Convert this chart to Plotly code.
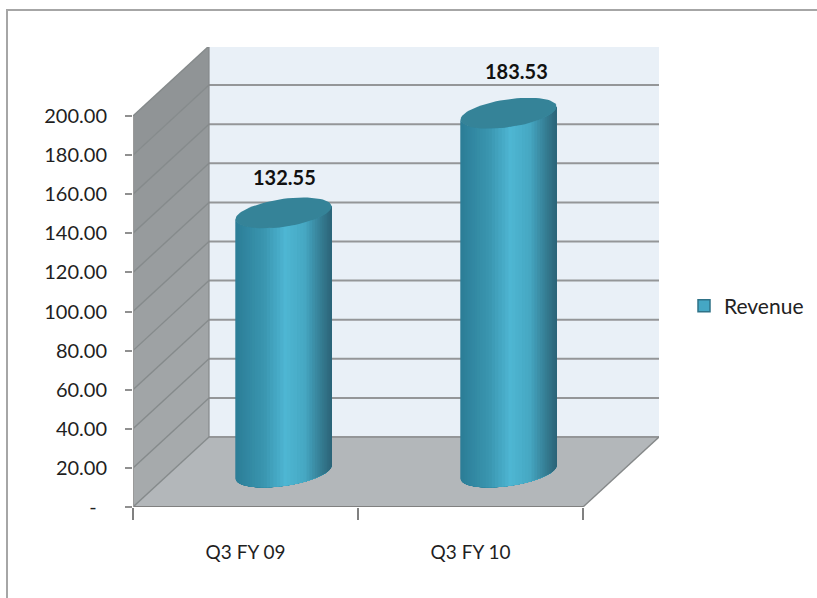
import math
import plotly.graph_objects as go

# ---- data ----
categories = ["Q3 FY 09", "Q3 FY 10"]
revenue = [132.55, 183.53]
value_labels = ["132.55", "183.53"]
y_ticks = [0, 20, 40, 60, 80, 100, 120, 140, 160, 180, 200]
y_tick_labels = ["-\u00a0\u00a0", "20.00", "40.00", "60.00", "80.00", "100.00",
                 "120.00", "140.00", "160.00", "180.00", "200.00"]
series_name = "Revenue"

# ---- geometry / style ----
W, H = 817, 598
L, R, T, B = 133, 659, 47, 507       # px box of the oblique chart
PX_X = 225.0                         # px per category
PX_Y = 391 / 200                     # px per value unit
XMIN = -0.5
XMAX = XMIN + (R - L) / PX_X
YMAX = (B - T) / PX_Y
DX = 76 / PX_X                       # depth vector in axis units
DY = 70 / PX_Y
AX = 48 / PX_X                       # cylinder half width
BY = 14 / PX_Y                       # ellipse half height
TILT = 6.5 / PX_Y                    # ellipse tilt
FONT = "Lato"

def lerp(c1, c2, f):
    return tuple(c1[k] + (c2[k] - c1[k]) * f for k in range(3))

def shade(f):
    stops = [(0.0, (44, 125, 150)), (0.30, (58, 150, 176)), (0.52, (78, 182, 211)),
             (0.72, (70, 168, 195)), (0.90, (52, 122, 144)), (1.0, (44, 100, 120))]
    for (a, ca), (b, cb) in zip(stops, stops[1:]):
        if f <= b:
            c = lerp(ca, cb, (f - a) / (b - a))
            return "rgb(%d,%d,%d)" % tuple(round(v) for v in c)
    return "rgb(44,100,120)"

def poly(xs, ys, fill, line=None, width=0):
    return go.Scatter(x=xs, y=ys, mode="lines", fill="toself", fillcolor=fill,
                      line=dict(color=line or fill, width=width), hoverinfo="skip",
                      showlegend=False)

def seg(xs, ys, color, width=2):
    return go.Scatter(x=xs, y=ys, mode="lines", line=dict(color=color, width=width),
                      hoverinfo="skip", showlegend=False)

x0, x1 = -0.5, -0.5 + len(categories)
top = y_ticks[-1]
fig = go.Figure()

# left wall: bands between ticks, darker upward
n = len(y_ticks) - 1
for i in range(n):
    a, b = y_ticks[i], y_ticks[i + 1]
    g = 166 - 22 * (i / (n - 1))
    col = "rgb(%d,%d,%d)" % (g, g + 4, g + 6)
    fig.add_trace(poly([x0, x0 + DX, x0 + DX, x0, x0], [a, a + DY, b + DY, b, a], col))
# back wall
fig.add_trace(poly([x0 + DX, x1 + DX, x1 + DX, x0 + DX, x0 + DX],
                   [DY, DY, top + DY, top + DY, DY], "#e9f0f7"))
# floor
fig.add_trace(poly([x0, x1, x1 + DX, x0 + DX, x0], [0, 0, DY, DY, 0], "#b3b7ba"))

# grid on walls
for v in y_ticks:
    fig.add_trace(seg([x0 + DX, x1 + DX], [v + DY, v + DY], "#949698"))
    fig.add_trace(seg([x0, x0 + DX], [v, v + DY], "#858a8b", 1.4))
fig.add_trace(seg([x0 + DX, x0 + DX], [DY, top + DY], "#85898a", 1.2))
fig.add_trace(seg([x1, x1 + DX], [0, DY], "#858889", 1.4))
fig.add_trace(seg([x0, x1], [0, 0], "#808080", 2))
fig.add_trace(seg([x0, x0], [0, top], "#9a9a9a", 2))

# bar trace (legend + base of the cylinders)
centres = [i + DX / 2 for i in range(len(categories))]
base = DY / 2
fig.add_trace(go.Bar(x=centres, y=revenue, base=base, width=2 * AX, name=series_name,
                     marker=dict(color="#45a7c4", line=dict(color="#2f7287", width=1.5)),
                     showlegend=True, hoverinfo="skip"))

# cylinder shading
N = 44
for cx, val in zip(centres, revenue):
    ytop = base + val
    for i in range(N):
        t_i = math.pi * (1 - i / N)
        frac = (1 + math.cos(t_i - math.pi / N / 2)) / 2
        ts = [t_i * (1 - k / 12) for k in range(13)]
        xs_low = [cx + AX * math.cos(t) for t in ts]
        ys_low = [base + TILT * math.cos(t) - BY * math.sin(t) for t in ts]
        xs_up = xs_low[::-1]
        ys_up = [ytop + TILT * math.cos(t) - BY * math.sin(t) for t in ts[::-1]]
        fig.add_trace(poly(xs_low + xs_up + xs_low[:1], ys_low + ys_up + ys_low[:1], shade(frac)))
    # cap
    ts = [2 * math.pi * k / 72 for k in range(73)]
    fig.add_trace(poly([cx + AX * math.cos(t) for t in ts],
                       [ytop + TILT * math.cos(t) - BY * math.sin(t) for t in ts], "#358398"))

# data labels
x_shift = [1, 8]
y_shift = [36, 42]
for cx, val, txt, xs, ys in zip(centres, revenue, value_labels, x_shift, y_shift):
    fig.add_annotation(x=cx, y=base + val, text="<b>%s</b>" % txt, showarrow=False,
                       xshift=xs, yshift=ys, font=dict(family=FONT, size=20, color="#111111"))

fig.update_layout(
    width=W, height=H, autosize=False, margin=dict(l=0, r=0, t=0, b=0),
    paper_bgcolor="white", plot_bgcolor="rgba(0,0,0,0)", barmode="overlay",
    font=dict(family=FONT, size=20, color="#1f1f1f"),
    legend=dict(x=684 / W, y=1 - 306 / H, xanchor="left", yanchor="middle",
                bgcolor="rgba(0,0,0,0)", font=dict(family=FONT, size=21, color="#222222"),
                itemclick=False, itemdoubleclick=False, itemwidth=30),
    xaxis=dict(domain=[L / W, R / W], range=[XMIN, XMAX], tickmode="array", automargin=False,
               tickvals=list(range(len(categories))), ticktext=categories,
               tickfont=dict(size=19),
               ticks="outside", ticklen=28, tickcolor="rgba(0,0,0,0)", showgrid=False,
               zeroline=False, showline=False,
               minor=dict(tickmode="array", tickvals=[x0, x0 + 1, x1], ticks="outside",
                          ticklen=12, tickcolor="#808080", tickwidth=1.5, showgrid=False)),
    yaxis=dict(domain=[1 - B / H, 1 - T / H], range=[0, YMAX], tickmode="array", automargin=False,
               tickvals=y_ticks, ticktext=y_tick_labels, ticks="outside", ticklen=21,
               tickcolor="rgba(0,0,0,0)", showgrid=False, zeroline=False, showline=False,
               minor=dict(tickmode="array", tickvals=y_ticks, ticks="outside",
                          ticklen=7, tickcolor="#909090", tickwidth=1.5, showgrid=False)),
    shapes=[
        dict(type="line", xref="paper", yref="paper", x0=6 / W, x1=1, y0=1 - 10 / H, y1=1 - 10 / H,
             line=dict(color="#a6a6a6", width=2)),
        dict(type="line", xref="paper", yref="paper", x0=7 / W, x1=7 / W, y0=0, y1=1 - 10 / H,
             line=dict(color="#a6a6a6", width=2)),
    ],
)

fig.write_html("out.html", default_width="817px", default_height="598px",
               config=dict(displayModeBar=False, responsive=False),
               post_script="document.body.style.margin='0';document.body.style.overflow='hidden';")
